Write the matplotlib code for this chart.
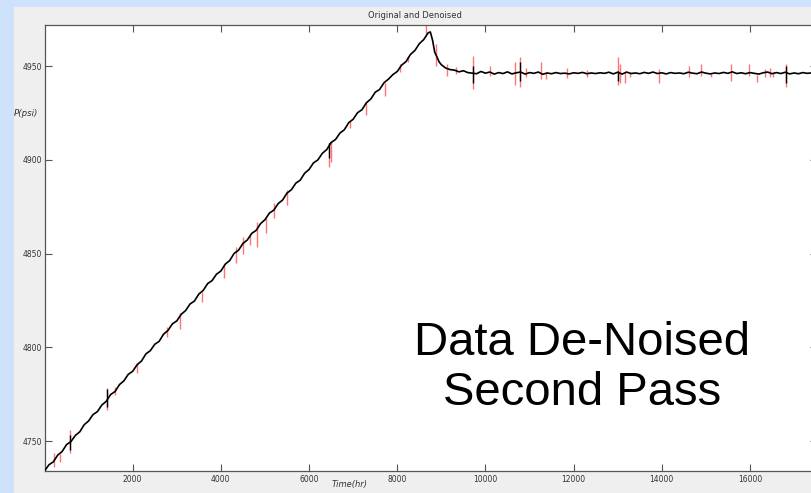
import matplotlib
matplotlib.use("Agg")
import matplotlib.pyplot as plt
from matplotlib.patches import Rectangle

# ---- data -------------------------------------------------------------
# denoised pressure: build-up ramp (every 100 hr)
ramp_t = list(range(0, 8700, 100))
ramp_p = [
    4734.0, 4737.3, 4738.9, 4742.5, 4744.4, 4748.1, 4749.7, 4753.0, 4754.9, 4758.7,
    4760.7, 4764.1, 4765.7, 4769.2, 4771.2, 4774.8, 4776.4, 4780.1, 4782.1, 4785.6,
    4787.2, 4790.7, 4792.7, 4796.5, 4798.2, 4801.6, 4803.2, 4807.0, 4809.0, 4812.5,
    4814.1, 4817.6, 4819.6, 4823.1, 4824.7, 4828.4, 4830.4, 4834.0, 4835.6, 4839.0,
    4840.7, 4844.4, 4846.3, 4850.1, 4851.8, 4855.4, 4857.3, 4860.8, 4862.4, 4866.0,
    4868.1, 4871.6, 4873.2, 4876.7, 4878.6, 4882.3, 4884.1, 4887.6, 4889.2, 4892.9,
    4894.9, 4898.4, 4900.0, 4903.5, 4905.5, 4909.3, 4910.9, 4914.3, 4916.1, 4919.9,
    4921.7, 4925.2, 4926.8, 4930.5, 4932.5, 4936.1, 4937.6, 4941.2, 4943.1, 4945.5,
    4947.2, 4950.6, 4952.5, 4956.3, 4958.4, 4962.0, 4964.2,
]

# peak and fall-off after shut-in
peak_t = [8700, 8750, 8800, 8850, 8900, 8950, 9000, 9100, 9200, 9300, 9400, 9500, 9600, 9700]
peak_p = [4967.8, 4968.3, 4964.0, 4957.5, 4955.0, 4952.3, 4950.8, 4949.0, 4948.2,
          4947.9, 4947.0, 4947.6, 4946.6, 4946.3]

# stabilised plateau (every 100 hr)
flat_t = list(range(9800, 17700, 100))
flat_p = [
    4946.0, 4947.2, 4946.3, 4946.9, 4945.8, 4946.6, 4946.1, 4947.0, 4945.9, 4946.5,
    4946.9, 4945.8, 4946.6, 4946.2, 4946.9, 4945.7, 4946.4, 4946.0, 4946.6, 4946.1,
    4946.3, 4945.9, 4946.5, 4946.2, 4946.7, 4946.0, 4946.4, 4946.1, 4946.5, 4946.2,
    4946.8, 4945.9, 4946.8, 4945.8, 4946.9, 4946.1, 4946.4, 4946.0, 4946.7, 4946.2,
    4946.9, 4946.1, 4946.5, 4945.9, 4946.6, 4946.2, 4946.4, 4946.0, 4946.8, 4946.3,
    4946.0, 4946.9, 4946.3, 4945.9, 4946.4, 4946.1, 4946.7, 4946.2, 4947.0, 4946.1,
    4946.5, 4946.0, 4946.6, 4946.2, 4945.8, 4946.5, 4946.9, 4946.0, 4946.6, 4946.1,
    4946.8, 4945.9, 4946.4, 4946.0, 4946.6, 4946.2, 4946.5, 4946.1, 4946.3,
]

# original-signal noise spikes (time, low, high)
spike_t = [209, 345, 572, 1418, 1607, 2098, 2778, 3066, 3572, 4064, 4352, 4503, 4670,
           4820, 5017, 5198, 5500, 6453, 6507, 6922, 7300, 7716, 8056, 8245, 8662,
           8873, 9129, 9342, 9719, 10097, 10664, 10777, 10929, 11253, 11366, 11850,
           12300, 13007, 13061, 13159, 13272, 13937, 14610, 14898, 15125, 15578,
           15978, 16159, 16350, 16448, 16524, 16827]
spike_lo = [4735.9, 4739.0, 4743.4, 4766.4, 4774.5, 4786.3, 4805.5, 4809.8, 4824.2,
            4837.0, 4845.0, 4850.0, 4854.8, 4853.7, 4861.0, 4869.0, 4876.0, 4896.0,
            4899.0, 4917.0, 4924.0, 4934.0, 4947.0, 4952.0, 4966.0, 4950.0, 4944.6,
            4945.7, 4937.7, 4945.0, 4940.0, 4939.0, 4944.0, 4943.0, 4943.0, 4943.5,
            4944.0, 4940.0, 4941.0, 4941.0, 4944.0, 4941.0, 4944.0, 4945.0, 4944.0,
            4942.0, 4945.0, 4941.5, 4944.0, 4944.0, 4944.0, 4939.0]
spike_hi = [4743.4, 4743.0, 4755.7, 4778.2, 4778.7, 4791.6, 4810.9, 4818.3, 4829.6,
            4844.0, 4853.7, 4859.0, 4860.2, 4867.0, 4869.0, 4877.0, 4884.0, 4909.0,
            4910.0, 4921.0, 4931.0, 4941.0, 4951.0, 4955.0, 4972.0, 4962.0, 4951.0,
            4949.5, 4955.4, 4950.0, 4952.0, 4955.0, 4949.0, 4952.0, 4947.0, 4949.0,
            4948.0, 4955.0, 4951.0, 4947.0, 4947.0, 4948.5, 4950.0, 4951.0, 4946.0,
            4951.0, 4951.0, 4945.5, 4948.7, 4949.0, 4947.0, 4951.0]

# residual spikes left in the denoised signal (time, low, high)
resid_t = [572, 1418, 6453, 9719, 10777, 13007, 16827]
resid_lo = [4745.0, 4768.0, 4901.0, 4941.0, 4942.0, 4942.0, 4941.0]
resid_hi = [4753.0, 4778.0, 4909.0, 4950.0, 4952.0, 4947.5, 4950.0]

x_ticks = [2000, 4000, 6000, 8000, 10000, 12000, 14000, 16000]
y_ticks = [4750, 4800, 4850, 4900, 4950]

# ---- figure -----------------------------------------------------------
W, H = 811, 493
fig = plt.figure(figsize=(W / 100, H / 100), dpi=100)
fig.patch.set_facecolor("#cfe2fb")

# grey window panel (behind everything)
bg = fig.add_axes([0, 0, 1, 1], zorder=-10)
bg.set_axis_off()
bg.set_xlim(0, W)
bg.set_ylim(H, 0)
bg.add_patch(Rectangle((14, 7), W - 14, H - 7, facecolor="#efefef", edgecolor="none"))

left, right, top, bottom = 44.5, 817, 25, 471
ax = fig.add_axes([left / W, (H - bottom) / H, (right - left) / W, (bottom - top) / H])
ax.set_facecolor("white")

t_all = ramp_t + peak_t + flat_t
p_all = ramp_p + peak_p + flat_p

ax.vlines(spike_t, spike_lo, spike_hi, colors="#ff2a2a", linewidth=1.0, alpha=0.65, zorder=2)
ax.plot(t_all, p_all, color="black", linewidth=1.2, zorder=3)
ax.vlines(resid_t, resid_lo, resid_hi, colors="black", linewidth=1.0, zorder=3)

ax.set_xlim(0, 17520)
ax.set_ylim(4734, 4972)
ax.set_xticks(x_ticks)
ax.set_yticks(y_ticks)
ax.tick_params(direction="in", length=5, width=0.8, color="#555555",
               labelsize=5.5, labelcolor="#333333", top=True, right=True)
ax.tick_params(axis="y", pad=2)
ax.tick_params(axis="x", pad=3)
for s in ax.spines.values():
    s.set_color("#555555")
    s.set_linewidth(0.9)

fig.text(415 / W, 1 - 15 / H, "Original and Denoised", ha="center", va="center",
         fontsize=6, color="#333333")
fig.text(350 / W, 1 - 485 / H, "Time(hr)", ha="center", va="center",
         fontsize=6, style="italic", color="#333333")
fig.text(14 / W, 1 - 113 / H, "P(psi)", ha="left", va="center",
         fontsize=6.2, style="italic", color="#333333")

fig.text(582 / W, 1 - 368 / H, "Data De-Noised\nSecond Pass", ha="center", va="center",
         fontsize=34, family="Liberation Sans", color="black", linespacing=1.19)

fig.savefig("out.png", dpi=100, facecolor=fig.get_facecolor())
